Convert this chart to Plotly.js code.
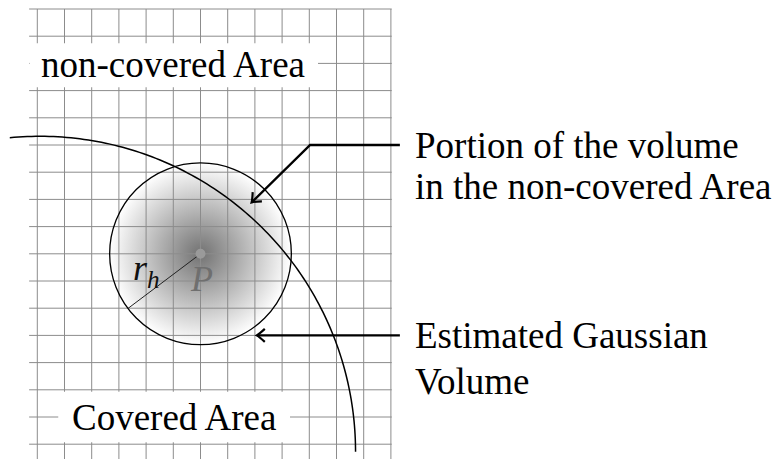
<!DOCTYPE html>
<html>
<head>
<meta charset="utf-8">
<script src="https://cdn.plot.ly/plotly-3.0.1.min.js"></script>
<style>html,body{margin:0;padding:0;background:#fff;}#chart{width:780px;height:459px;}</style>
</head>
<body>
<div id="chart"></div>
<script>
// ---- data ----
const gridCols = [0, 1, 2, 3, 4, 5, 6, 7, 8, 9, 10, 11, 12, 13];
const gridRows = [0, 1, 2, 3, 4, 5, 6, 7, 8, 9, 10, 11, 12, 13, 14, 15, 16];
const areaLabels = ['non-covered Area', 'Covered Area'];
const calloutPortion = ['Portion of the volume', 'in the non-covered Area'];
const calloutGauss = ['Estimated Gaussian', 'Volume'];
const pointLabel = 'P';
const radiusLabel = '<i>r</i><sub><i>h</i></sub>';
const gaussCenter = [6, 7];
const gaussRadius = 3.34;
const boundaryCenter = [0.1, -0.28];
const boundaryRadius = 11.6;
const boundaryAngles = [0, 95.5];
const radiusAngle = 217;
const portionArrow = {tail: [13.33, 11], knee: [10.03, 11], tip: [7.88, 8.89]};
const gaussArrow = {tail: [13.33, 4.0], tip: [8.07, 4.0]};

// ---- layout geometry ----
const W = 780, H = 459;
const unit = 27.2, ox = 37.3, oy = 444.2;
const xr = [-ox / unit, (W - ox) / unit];
const yr = [(oy - H) / unit, oy / unit];
const gridBox = {x0: -0.3, x1: 13.03, y0: yr[0], y1: 16};
const FONT = 'Liberation Serif';
const FS = 37;

const shapes = [];
gridCols.forEach(c => shapes.push({type: 'line', layer: 'above', x0: c, x1: c, y0: gridBox.y0, y1: gridBox.y1,
  line: {color: '#8c8c8c', width: 1}}));
gridRows.forEach(r => shapes.push({type: 'line', layer: 'above', x0: gridBox.x0, x1: gridBox.x1, y0: r, y1: r,
  line: {color: '#8c8c8c', width: 1}}));
// white label boxes
shapes.push({type: 'rect', layer: 'above', x0: -0.28, x1: 10.32, y0: 13.12, y1: 14.74, fillcolor: '#fff', line: {width: 0}});
shapes.push({type: 'rect', layer: 'above', x0: 0.77, x1: 9.29, y0: 0.07, y1: 1.93, fillcolor: '#fff', line: {width: 0}});
// gaussian outline
shapes.push({type: 'circle', layer: 'above', xref: 'x', yref: 'y',
  x0: gaussCenter[0] - gaussRadius, x1: gaussCenter[0] + gaussRadius,
  y0: gaussCenter[1] - gaussRadius, y1: gaussCenter[1] + gaussRadius,
  line: {color: '#000', width: 1.3}});
// boundary arc
let p = '';
for (let i = 0; i <= 120; i++) {
  const a = (boundaryAngles[0] + (boundaryAngles[1] - boundaryAngles[0]) * i / 120) * Math.PI / 180;
  const x = boundaryCenter[0] + boundaryRadius * Math.cos(a);
  const y = boundaryCenter[1] + boundaryRadius * Math.sin(a);
  p += (i === 0 ? 'M' : 'L') + x.toFixed(4) + ',' + y.toFixed(4);
}
shapes.push({type: 'path', layer: 'above', path: p, line: {color: '#000', width: 1.5}});
// radius line
const ra = radiusAngle * Math.PI / 180;
shapes.push({type: 'line', layer: 'above', x0: gaussCenter[0], y0: gaussCenter[1],
  x1: gaussCenter[0] + gaussRadius * Math.cos(ra), y1: gaussCenter[1] + gaussRadius * Math.sin(ra),
  line: {color: '#222', width: 1}});
// centre dot
shapes.push({type: 'circle', layer: 'above', xsizemode: 'pixel', ysizemode: 'pixel',
  xanchor: gaussCenter[0], yanchor: gaussCenter[1], x0: -5, x1: 5, y0: -5, y1: 5,
  fillcolor: '#9a9a9a', line: {width: 0}});
// callout arrows
const arrowLine = {color: '#000', width: 2.4};
shapes.push({type: 'path', layer: 'above', line: arrowLine,
  path: 'M' + portionArrow.tail.join(',') + 'L' + portionArrow.knee.join(',') + 'L' + portionArrow.tip.join(',')});
shapes.push({type: 'line', layer: 'above', line: arrowLine,
  x0: gaussArrow.tail[0], y0: gaussArrow.tail[1], x1: gaussArrow.tip[0], y1: gaussArrow.tip[1]});

// curved "to"-style arrow heads (pixel offsets, rotated to the travel direction)
function headPath(dirDeg) {
  const pts = [[8, 6.5], [2.2, 1.2], [0, 0], [2.2, -1.2], [8, -6.5]];
  // base head points to the left (-x); rotate by (dirDeg - 180)
  const t = (dirDeg - 180) * Math.PI / 180, c = Math.cos(t), s = Math.sin(t);
  const r = pts.map(([x, y]) => [(x * c - y * s).toFixed(2), (x * s + y * c).toFixed(2)]);
  return 'M' + r[0].join(',') + 'Q' + r[1].join(',') + ' ' + r[2].join(',') + 'Q' + r[3].join(',') + ' ' + r[4].join(',');
}
shapes.push({type: 'path', layer: 'above', xsizemode: 'pixel', ysizemode: 'pixel',
  xanchor: portionArrow.tip[0], yanchor: portionArrow.tip[1], path: headPath(225), line: {color: '#000', width: 2.2}});
shapes.push({type: 'path', layer: 'above', xsizemode: 'pixel', ysizemode: 'pixel',
  xanchor: gaussArrow.tip[0], yanchor: gaussArrow.tip[1], path: headPath(180), line: {color: '#000', width: 2.2}});

const annotations = [
  {x: 5.0, y: 13.95, text: areaLabels[0]},
  {x: 5.03, y: 0.98, text: areaLabels[1]},
  {x: 13.81, y: 11.0, text: calloutPortion[0], xanchor: 'left'},
  {x: 13.81, y: 9.46, text: calloutPortion[1], xanchor: 'left'},
  {x: 13.81, y: 4.0, text: calloutGauss[0], xanchor: 'left'},
  {x: 13.81, y: 2.32, text: calloutGauss[1], xanchor: 'left'},
  {x: 6.04, y: 6.07, text: '<i>' + pointLabel + '</i>', font: {family: FONT, size: 36, color: '#6f6f6f'}},
  {x: 4.0, y: 6.4, text: radiusLabel, font: {family: FONT, size: 36, color: '#111'}},
].map(a => Object.assign({xref: 'x', yref: 'y', showarrow: false, xanchor: 'center', yanchor: 'middle',
  font: {family: FONT, size: FS, color: '#000'}}, a));

const gaussSizePx = 2 * gaussRadius * unit;
const traces = [{
  type: 'scatter', mode: 'markers', x: [gaussCenter[0]], y: [gaussCenter[1]], hoverinfo: 'skip',
  marker: {size: gaussSizePx, color: '#ffffff', line: {width: 0}, gradient: {type: 'radial', color: '#727272'}}
}];

const layout = {
  width: W, height: H, margin: {l: 0, r: 0, t: 0, b: 0},
  paper_bgcolor: '#fff', plot_bgcolor: '#fff', showlegend: false,
  xaxis: {range: xr, visible: false, fixedrange: true},
  yaxis: {range: yr, visible: false, fixedrange: true},
  shapes: shapes, annotations: annotations
};
Plotly.newPlot('chart', traces, layout, {staticPlot: true, displayModeBar: false});
</script>
</body>
</html>
